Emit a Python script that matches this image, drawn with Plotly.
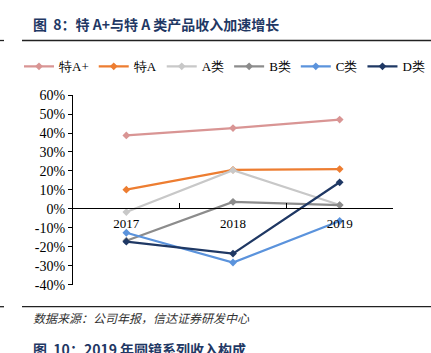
import plotly.graph_objects as go

years = ["2017", "2018", "2019"]
series_names = ["特A+", "特A", "A类", "B类", "C类", "D类"]
v_teAplus = [38.7, 42.6, 47.1]
v_teA = [10.1, 20.6, 21.0]
v_A = [-1.7, 20.4, 2.0]
v_B = [-16.8, 3.7, 2.0]
v_C = [-12.6, -28.3, -6.4]
v_D = [-17.3, -23.6, 14.0]
values = [v_teAplus, v_teA, v_A, v_B, v_C, v_D]
colors = ["#d99594", "#ed7d31", "#c8c8c8", "#8c8c8c", "#5b93dc", "#1f3864"]
ytick_vals = [60, 50, 40, 30, 20, 10, 0, -10, -20, -30, -40]
ytick_text = [f"{v}%" for v in ytick_vals]

W, H = 431, 353
serif = "Liberation Serif"

fig = go.Figure()
for name, vals, c in zip(series_names, values, colors):
    fig.add_trace(go.Scatter(
        x=years, y=vals, name=name, mode="lines+markers",
        line=dict(color=c, width=2.25),
        marker=dict(symbol="diamond", size=6, color=c),
    ))

def px_x(p):
    return p / W

def px_y(p):
    return 1 - p / H

fig.update_layout(
    width=W, height=H,
    margin=dict(l=0, r=0, t=0, b=0),
    paper_bgcolor="white", plot_bgcolor="white",
    font=dict(family=serif, size=13, color="black"),
    showlegend=True,
    legend=dict(
        orientation="h", x=px_x(430), y=px_y(62), xanchor="right", yanchor="middle",
        font=dict(family=serif, size=13, color="black"),
        itemwidth=30, tracegroupgap=0,
        bgcolor="rgba(0,0,0,0)",
    ),
    xaxis=dict(
        domain=[px_x(73), px_x(393)],
        type="category",
        range=[-0.5, 2.5],
        anchor="free", position=px_y(210),
        showline=True, linecolor="black", linewidth=1,
        ticks="inside", tickson="boundaries", ticklen=5, tickcolor="black",
        showgrid=False, zeroline=False,
        tickfont=dict(family=serif, size=13, color="black"),
        ticklabelstandoff=3,
        fixedrange=True,
    ),
    yaxis=dict(
        domain=[px_y(290), px_y(92)],
        range=[-40, 60],
        tickvals=ytick_vals, ticktext=ytick_text,
        showline=True, linecolor="black", linewidth=1,
        ticks="outside", ticklen=4, tickcolor="black",
        showgrid=False, zeroline=False,
        tickfont=dict(family=serif, size=14, color="black"),
        fixedrange=True,
    ),
)

# Title and decorations
fig.add_annotation(
    text="图  8：特 A+与特 A 类产品收入加速增长",
    x=px_x(31), y=px_y(18), xref="paper", yref="paper",
    xanchor="left", yanchor="middle", showarrow=False,
    font=dict(family="Noto Sans CJK SC", size=14, color="#1f3864", weight="bold"),
)
fig.add_annotation(
    text="数据来源：公司年报，信达证券研发中心",
    x=px_x(31), y=px_y(324), xref="paper", yref="paper",
    xanchor="left", yanchor="middle", showarrow=False,
    font=dict(family="Noto Sans CJK SC", size=12, color="#333333", style="italic"),
)
fig.add_annotation(
    text="图  10：2019 年圆镜系列收入构成",
    x=px_x(31), y=px_y(345), xref="paper", yref="paper",
    xanchor="left", yanchor="top", showarrow=False,
    font=dict(family="Noto Sans CJK SC", size=14, color="#1f3864", weight="bold"),
)
for yy in (35, 313):
    fig.add_shape(type="line", xref="paper", yref="paper",
                  x0=px_x(22), x1=1, y0=px_y(yy), y1=px_y(yy),
                  line=dict(color="#222222", width=1.3))
    fig.add_shape(type="line", xref="paper", yref="paper",
                  x0=0, x1=px_x(4), y0=px_y(yy), y1=px_y(yy),
                  line=dict(color="#222222", width=1.3))

fig.write_html("out.html")
